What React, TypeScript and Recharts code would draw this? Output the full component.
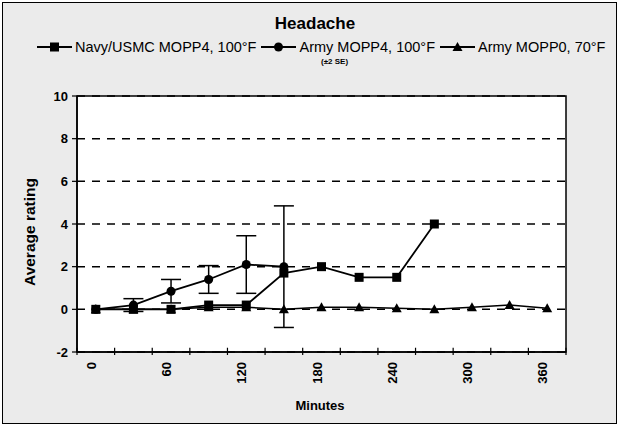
import React from "react";
import {
  ComposedChart,
  Line,
  XAxis,
  YAxis,
  CartesianGrid,
  ErrorBar,
  ReferenceArea,
  ReferenceLine,
} from "recharts";

// minutes, one category every 30 min
const minutes = [0, 30, 60, 90, 120, 150, 180, 210, 240, 270, 300, 330, 360];
const navyMopp4 = [0, 0, 0, 0.2, 0.2, 1.7, 2.0, 1.5, 1.5, 4.0];
const armyMopp4 = [0, 0.2, 0.85, 1.4, 2.1, 2.0];
const armyMopp4Se2 = [0, 0.3, 0.55, 0.65, 1.35, 2.85];
const armyMopp0 = [0, 0, 0, 0.1, 0.1, 0, 0.1, 0.1, 0.05, 0, 0.1, 0.2, 0.05];

const xLabelTicks = [0, 60, 120, 180, 240, 300, 360];
// category boundaries get the tick marks
const xMarkTicks = [-15, 15, 45, 75, 105, 135, 165, 195, 225, 255, 285, 315, 345, 375];
const yTicks = [-2, 0, 2, 4, 6, 8, 10];

const data = minutes.map((m, i) => ({
  min: m,
  navy: navyMopp4[i] ?? null,
  army4: armyMopp4[i] ?? null,
  army4Err: armyMopp4Se2[i] ?? null,
  army0: armyMopp0[i] ?? null,
}));

const FONT = "'Liberation Sans', Arial, Helvetica, sans-serif";

const SquareDot = (p: any) => {
  if (p.cx == null || p.cy == null) return <g key={p.key} />;
  return <rect key={p.key} x={p.cx - 4.5} y={p.cy - 4.5} width={9} height={9} fill="#000" />;
};

const TriangleDot = (p: any) => {
  if (p.cx == null || p.cy == null) return <g key={p.key} />;
  const { cx, cy } = p;
  return (
    <polygon
      key={p.key}
      points={`${cx},${cy - 5} ${cx + 5},${cy + 4} ${cx - 5},${cy + 4}`}
      fill="#000"
    />
  );
};

const MinuteTick = (p: any) => {
  const y = p.y + 10;
  return (
    <text
      x={p.x}
      y={y}
      transform={`rotate(-90 ${p.x} ${y})`}
      textAnchor="end"
      fontSize={13}
      fontWeight="bold"
      fontFamily={FONT}
      fill="#000"
    >
      {p.payload.value}
    </text>
  );
};

function LegendIcon({ kind }: { kind: string }) {
  return (
    <svg width={35} height={12} style={{ display: "block" }}>
      <line x1={0} y1={6} x2={35} y2={6} stroke="#000" strokeWidth={1.8} />
      {kind === "square" && <rect x={13} y={1.5} width={9} height={9} fill="#000" />}
      {kind === "circle" && <circle cx={17.5} cy={6} r={4.5} fill="#000" />}
      {kind === "triangle" && <polygon points="17.5,1 22.5,10 12.5,10" fill="#000" />}
    </svg>
  );
}

const legendItems = [
  { kind: "square", label: "Navy/USMC MOPP4, 100°F" },
  { kind: "circle", label: "Army MOPP4, 100°F" },
  { kind: "triangle", label: "Army MOPP0, 70°F" },
];

export default function App() {
  return (
    <div
      style={{
        position: "fixed",
        left: 0,
        top: 0,
        width: 620,
        height: 427,
        fontFamily: FONT,
        color: "#000",
      }}
    >
      <div
        style={{
          position: "absolute",
          left: 2,
          top: 2,
          width: 613,
          height: 420,
          border: "1.5px solid #000",
          background: "#ebebeb",
        }}
      />
      <div
        style={{
          position: "absolute",
          left: 0,
          top: 14,
          width: 630,
          textAlign: "center",
          fontSize: 17,
          fontWeight: "bold",
        }}
      >
        Headache
      </div>
      <div
        style={{
          position: "absolute",
          left: 37,
          top: 39,
          display: "flex",
          alignItems: "center",
          fontSize: 14.5,
          whiteSpace: "nowrap",
        }}
      >
        {legendItems.map((it) => (
          <div key={it.label} style={{ display: "flex", alignItems: "center", marginRight: 5 }}>
            <LegendIcon kind={it.kind} />
            <span style={{ marginLeft: 3 }}>{it.label}</span>
          </div>
        ))}
      </div>
      <div
        style={{
          position: "absolute",
          left: 321,
          top: 57,
          fontSize: 8,
          fontWeight: "bold",
          lineHeight: "9px",
        }}
      >
        (±2 SE)
      </div>
      <div
        style={{
          position: "absolute",
          left: 30,
          top: 232,
          transform: "translate(-50%, -50%) rotate(-90deg)",
          fontSize: 15.5,
          fontWeight: "bold",
          whiteSpace: "nowrap",
        }}
      >
        Average rating
      </div>
      <div
        style={{
          position: "absolute",
          left: 320,
          top: 405,
          transform: "translate(-50%, -50%)",
          fontSize: 13,
          fontWeight: "bold",
        }}
      >
        Minutes
      </div>
      <div style={{ position: "absolute", left: 0, top: 0 }}>
        <ComposedChart
          width={620}
          height={427}
          data={data}
          margin={{ top: 96, right: 54, bottom: 35, left: 37 }}
        >
          <CartesianGrid
            vertical={false}
            stroke="#000"
            strokeWidth={1.5}
            strokeDasharray="8 7"
            fill="#fff"
            fillOpacity={1}
          />
          <XAxis
            dataKey="min"
            type="number"
            domain={[-15, 375]}
            allowDataOverflow
            ticks={xLabelTicks}
            interval={0}
            tickLine={false}
            tickSize={0}
            tickMargin={0}
            tick={<MinuteTick />}
            height={40}
            axisLine={{ stroke: "#000", strokeWidth: 1.5 }}
          />
          <YAxis
            type="number"
            domain={[-2, 10]}
            ticks={yTicks}
            interval={0}
            width={40}
            tickSize={5}
            tickMargin={4}
            axisLine={{ stroke: "#000", strokeWidth: 1.5 }}
            tickLine={{ stroke: "#000", strokeWidth: 1.2 }}
            tick={{ fill: "#000", fontSize: 13, fontWeight: "bold", fontFamily: FONT }}
          />
          <ReferenceArea
            x1={-15}
            x2={375}
            y1={-2}
            y2={10}
            fill="none"
            fillOpacity={0}
            stroke="#000"
            strokeWidth={1.5}
            ifOverflow="visible"
          />
          {xMarkTicks.map((v) => (
            <ReferenceLine
              key={`mark-${v}`}
              segment={[
                { x: v, y: -2.14 },
                { x: v, y: -1.8 },
              ]}
              stroke="#000"
              strokeWidth={1.2}
              ifOverflow="visible"
            />
          ))}
          <Line
            dataKey="army0"
            stroke="#000"
            strokeWidth={1.5}
            dot={<TriangleDot />}
            activeDot={false}
            isAnimationActive={false}
          />
          <Line
            dataKey="army4"
            stroke="#000"
            strokeWidth={1.8}
            dot={{ r: 4.5, fill: "#000", stroke: "#000", strokeWidth: 0 }}
            activeDot={false}
            isAnimationActive={false}
          >
            <ErrorBar dataKey="army4Err" width={10} stroke="#000" strokeWidth={1.5} direction="y" />
          </Line>
          <Line
            dataKey="navy"
            stroke="#000"
            strokeWidth={1.8}
            dot={<SquareDot />}
            activeDot={false}
            isAnimationActive={false}
          />
        </ComposedChart>
      </div>
    </div>
  );
}
